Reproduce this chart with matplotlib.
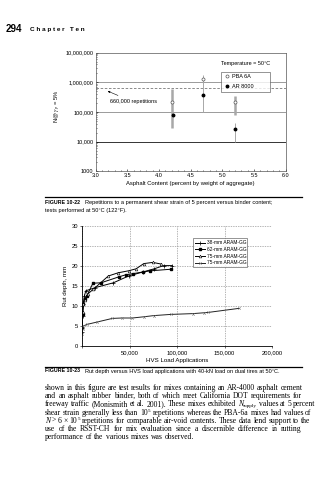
import numpy as np
import matplotlib
matplotlib.use("Agg")
import matplotlib.pyplot as plt
from matplotlib.ticker import FixedLocator, NullFormatter

plt.rcParams['font.family'] = ['Liberation Sans', 'DejaVu Sans']
plt.rcParams['mathtext.fontset'] = 'stix'

#Figure 10-22 data
pba_x = [4.2, 4.7, 5.2]
pba_n = [2.1e5, 1.3e6, 2.1e5]
ar_x = [4.22, 4.7, 5.2]
ar_n = [8.1e4, 3.7e5, 2.6e4]
# ranges drawn as vertical bars
bar_x = [4.2, 4.7, 5.2, 5.2]
bar_lo = [2.8e4, 1.0e5, 7.7e4, 1.0e4]
bar_hi = [5.9e5, 1.8e6, 3.5e5, 4.3e4]
limit_n = 660000
grid_n = [1e4, 1e5, 1e6]

#Figure 10-23 data
x38 = [200, 600, 1200, 2500, 4000, 14000, 33000, 49000, 64000, 76000, 86000, 95000]
y38 = [3.5, 7.5, 10.5, 12.5, 13.8, 14.6, 15.8, 17.5, 18.5, 19.3, 20.1, 20.1]
x62 = [200, 600, 1500, 3000, 5000, 11500, 20000, 39000, 46000, 54000, 64000, 72000, 94000]
y62 = [4.5, 8, 10.5, 11.8, 12.5, 15.7, 15.8, 17.3, 17.8, 18.1, 18.5, 18.8, 19.2]
x75a = [200, 600, 1500, 3000, 6000, 12000, 27700, 38000, 49000, 57000, 65000, 74500, 83000]
y75a = [5, 8.5, 10.5, 11.5, 13, 14.2, 17.5, 18.3, 18.8, 19.3, 20.6, 20.9, 20.5]
x75b = [200, 600, 1500, 5300, 16000, 32000, 42000, 53000, 65000, 75500, 93600, 117000, 128000, 133000, 165000]
y75b = [3, 4.2, 5, 5.4, 6, 6.9, 7, 7, 7.3, 7.6, 7.9, 8.1, 8.3, 8.4, 9.4]
rut_labels = ["38-mm ARAM-GG", "62-mm ARAM-GG", "75-mm ARAM-GG", "75-mm ARAM-GG"]

# "_x" = subscript, "^x" = superscript (attached to the word before), "*x" = italic
body_lines = [
    "shown in this figure are test results for mixes containing an AR-4000 asphalt cement",
    "and an asphalt rubber binder, both of which meet California DOT requirements for",
    "freeway traffic (Monismith et al. 2001). These mixes exhibited *N _supply values at 5 percent",
    "shear strain generally less than 10 ^5 repetitions whereas the PBA-6a mixes had values of",
    "*N > 6 \u00d7 10 ^5 repetitions for comparable air-void contents. These data lend support to the",
    "use of the RSST-CH for mix evaluation since a discernible difference in rutting",
    "performance of the various mixes was observed.",
]

W, H = 328, 480
fig = plt.figure(figsize=(W / 100, H / 100), dpi=100)
fig.patch.set_facecolor("white")

def fx(px):
    return px / W

def fy(py):
    return 1 - py / H

#Page header
fig.text(fx(6), fy(29), "294", fontsize=7, fontweight="bold", va="center")
fig.text(fx(30), fy(29), "C h a p t e r   T e n", fontsize=4.6, fontweight="bold", va="center")

#----- Figure 10-22 -----
ax1 = fig.add_axes([fx(95.6), fy(171.4), fx(285.8) - fx(95.6), (171.4 - 52.6) / H])
ax1.set_yscale("log")
ax1.set_ylim(1000, 1e7)
ax1.set_xlim(3.0, 6.0)
for g in grid_n:
    ax1.axhline(g, color="#333333" if g == 1e4 else "#9a9a9a", lw=0.7, zorder=1)
ax1.axhline(limit_n, color="#777777", lw=0.6, ls=(0, (3, 2)), zorder=1)
for i in range(len(bar_x)):
    w = 0.7 if i in (1, 3) else 1.8
    ax1.vlines(bar_x[i], bar_lo[i], bar_hi[i], color="#a8a8a8", lw=w, zorder=2)
ax1.plot(pba_x, pba_n, ls="none", marker="o", ms=2.2, mfc="white", mec="#555555", mew=0.5,
         label="PBA 6A", zorder=3)
ax1.plot(ar_x, ar_n, ls="none", marker="o", ms=1.8, color="black", label="AR 8000", zorder=3)
ax1.set_xticks(np.arange(3.0, 6.01, 0.5))
ax1.set_xticklabels(["%.1f" % v for v in np.arange(3.0, 6.01, 0.5)])
ax1.xaxis.set_minor_locator(FixedLocator(np.arange(3.0, 6.01, 0.1)))
ax1.set_yticks([1e3, 1e4, 1e5, 1e6, 1e7])
ax1.set_yticklabels(["1000", "10,000", "100,000", "1,000,000", "10,000,000"])
ax1.yaxis.set_minor_formatter(NullFormatter())
ax1.tick_params(which="both", direction="in", labelsize=4, length=1.5, width=0.4, pad=1.5)
ax1.tick_params(which="minor", length=1)
for s in ax1.spines.values():
    s.set_linewidth(0.5)
    s.set_color("#555555")
ax1.set_xlabel("Asphalt Content (percent by weight of aggregate)", fontsize=4.2, labelpad=1.5)
ax1.set_ylabel(r"N@ $\gamma_p$ = 5%", fontsize=4.2)
ax1.yaxis.set_label_coords(-0.17, 0.55)
ax1.annotate("660,000 repetitions", xy=(3.15, 5.5e5), xytext=(3.22, 2.2e5), fontsize=4,
             va="center", arrowprops=dict(arrowstyle="-|>", lw=0.4, color="black",
                                          mutation_scale=3))
leg1 = ax1.legend(loc="upper left", bbox_to_anchor=(0.643, 0.694, 0.29, 0.168), mode="expand",
                  fontsize=4, frameon=True, fancybox=False, edgecolor="#444444",
                  handletextpad=0.1, handlelength=1.5, borderpad=0.45, labelspacing=0.9)
leg1.get_frame().set_linewidth(0.5)
fig.text(fx(221), fy(64), "Temperature = 50\u00b0C", fontsize=4, va="center")

#Caption 10-22
fig.add_artist(plt.Line2D([fx(45), fx(302)], [fy(197.5), fy(197.5)], color="black", lw=0.9))
fig.text(fx(45), fy(202.5), "FIGURE 10-22", fontsize=3.8, fontweight="bold", va="center")
fig.text(fx(85), fy(202.5), "Repetitions to a permanent shear strain of 5 percent versus binder content;",
         fontsize=4.1, va="center")
fig.text(fx(45), fy(210.5), "tests performed at 50\u00b0C (122\u00b0F).", fontsize=4.1, va="center")

#----- Figure 10-23 -----
ax2 = fig.add_axes([fx(82), fy(346), fx(272) - fx(82), 120 / H])
ax2.plot(x38, y38, color="black", lw=0.7, marker="+", ms=2.5, mew=0.5, label=rut_labels[0])
ax2.plot(x62, y62, color="black", lw=0.7, marker="s", ms=1.8, label=rut_labels[1])
ax2.plot(x75a, y75a, color="black", lw=0.7, marker="^", ms=2, mfc="white", mew=0.4,
         label=rut_labels[2])
ax2.plot(x75b, y75b, color="#222222", lw=0.7, marker="x", ms=1.8, mew=0.4, mec="#777777",
         label=rut_labels[3])
ax2.set_xlim(0, 200000)
ax2.set_ylim(0, 30)
ax2.set_xticks([0, 50000, 100000, 150000, 200000])
ax2.set_xticklabels(["", "50,000", "100,000", "150,000", "200,000"])
ax2.set_yticks(range(0, 31, 5))
ax2.grid(True, color="#999999", lw=0.5, ls=(0, (2, 1.5)))
ax2.set_axisbelow(True)
for side in ("top", "right"):
    ax2.spines[side].set_visible(False)
for side in ("left", "bottom"):
    ax2.spines[side].set_linewidth(0.6)
ax2.tick_params(labelsize=4.2, length=1.5, width=0.4, pad=1.5)
ax2.set_xlabel("HVS Load Applications", fontsize=4.4, labelpad=2)
ax2.set_ylabel("Rut depth, mm", fontsize=4.4)
ax2.yaxis.set_label_coords(-0.075, 0.5)
leg2 = ax2.legend(loc="upper left", bbox_to_anchor=(0.574, 0.658, 0.305, 0.259), mode="expand",
                  fontsize=3.5, frameon=True, fancybox=False, edgecolor="#444444",
                  handlelength=2.0, handletextpad=0.4, borderpad=0.4, labelspacing=0.35)
leg2.get_frame().set_linewidth(0.5)

#Caption 10-23
fig.add_artist(plt.Line2D([fx(45), fx(302)], [fy(366.5), fy(366.5)], color="black", lw=0.9))
fig.text(fx(45), fy(371), "FIGURE 10-23", fontsize=3.8, fontweight="bold", va="center")
fig.text(fx(85), fy(371), "Rut depth versus HVS load applications with 40-kN load on dual tires at 50\u00b0C.",
         fontsize=4.1, va="center")

#Body text, justified word by word (scripts stick to the word before them)
renderer = fig.canvas.get_renderer()
left, right = fx(45), fx(302)
for i, line in enumerate(body_lines):
    y = fy(388 + i * 8.2)
    groups = []
    for tok in line.split(" "):
        size, dy, attach, style = 5.5, 0.0, False, "normal"
        if tok[0] in "_^":
            dy = -1.6 if tok[0] == "_" else 2.0
            size, attach = 3.8, True
            tok = tok[1:]
        if tok.startswith("*"):
            style = "italic"
            tok = tok[1:]
        t = fig.text(0, y + dy / H, tok, fontsize=size, style=style, family="Liberation Serif",
                     va="center")
        w = t.get_window_extent(renderer).width / W + 0.3 / W
        if attach:
            groups[-1].append((t, w))
        else:
            groups.append([(t, w)])
    widths = [sum(w for _, w in g) for g in groups]
    if i < len(body_lines) - 1:
        gap = max((right - left - sum(widths)) / (len(groups) - 1), 1.5 / W)
    else:
        gap = 1.8 / W
    x = left
    for g in groups:
        for t, w in g:
            t.set_x(x)
            x += w
        x += gap

fig.savefig("out.png", dpi=100, facecolor="white")
